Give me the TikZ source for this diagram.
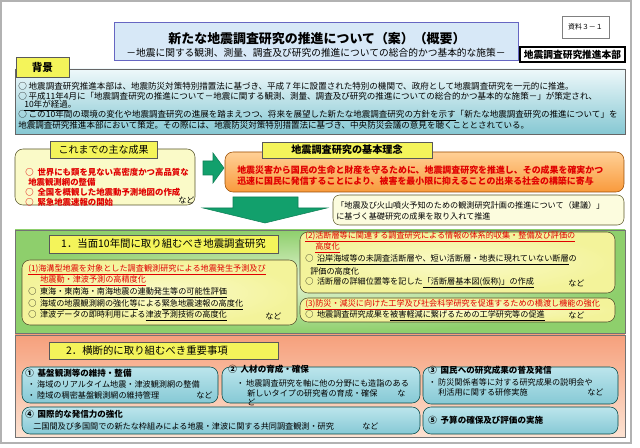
\documentclass[tikz,border=0pt]{standalone}
\usepackage{fontspec}
\usepackage{tikz}
\setmainfont{Noto Sans CJK JP}
\definecolor{tabyellow}{HTML}{F4F45A}
\definecolor{paleyellow}{HTML}{FAFAC8}
\definecolor{bgtop}{HTML}{EEF8FA}
\definecolor{bgbottom}{HTML}{86C8D3}
\definecolor{orangetop}{HTML}{FFD096}
\definecolor{orangebot}{HTML}{F99A3C}
\definecolor{arrowgreen}{HTML}{12A06C}
\definecolor{greenside}{HTML}{8ECF6C}
\definecolor{greenmid}{HTML}{E4F4D2}
\definecolor{subyellow}{HTML}{F3F39A}
\definecolor{salmontop}{HTML}{F6A07C}
\definecolor{salmonbot}{HTML}{FCE2D2}
\definecolor{cyantop}{HTML}{BCE5EC}
\definecolor{cyanbot}{HTML}{86C9D5}
\definecolor{titleblue}{HTML}{D7E8F7}
\definecolor{rednote}{HTML}{E00000}

\begin{document}
\begin{tikzpicture}[x=0.75pt,y=-0.75pt,
  body/.style={anchor=west,inner sep=0pt,font=\fontsize{6.1}{7.5}\selectfont},
  bgtext/.style={body,font=\fontsize{6.4}{7.5}\selectfont},
  redtext/.style={body,text=rednote},
  boxhead/.style={body,font=\fontsize{6.4}{7.5}\selectfont\bfseries},
  tabtext/.style={inner sep=0pt,font=\fontsize{7.5}{8}\selectfont},
  tabbox/.style={draw=black!65,fill=tabyellow},
  subbox/.style={draw=black!55!olive,rounded corners=6pt,inner color=paleyellow,outer color=subyellow},
  cyanbox/.style={draw=black!45!teal,rounded corners=6pt,top color=cyantop,bottom color=cyanbot},
  bigarrow/.style={fill=arrowgreen,draw=arrowgreen!80!black}]
\useasboundingbox (0,0) rectangle (640,448);
\draw[line width=1.5pt,draw=black!30,fill=white] (1,1) rectangle (631,443);

% title block
\draw[fill=titleblue,draw=black!40!blue!60] (114,22) rectangle (518,60);
\node[inner sep=0pt,font=\fontsize{9.7}{10}\selectfont\bfseries] (title) at (317,39) {新たな地震調査研究の推進について（案）（概要）};
\node[inner sep=0pt,font=\fontsize{7.3}{8}\selectfont] (subtitle) at (316,53) {－地震に関する観測、測量、調査及び研究の推進についての総合的かつ基本的な施策－};
\draw[draw=black!50,fill=white] (562,16) rectangle (609,38);
\node[inner sep=0pt,font=\fontsize{5.2}{6}\selectfont] (docno) at (585.5,27) {資料３－１};
\draw[line width=0.8pt,fill=white] (520,47) rectangle (625,62);
\node[inner sep=0pt,font=\fontsize{7.3}{8}\selectfont\bfseries] (hq) at (572.5,54.5) {地震調査研究推進本部};

% background
\draw[draw=black!60,top color=bgtop,bottom color=bgbottom] (15,69) rectangle (625,134);
\draw[tabbox] (16,57) rectangle (69,77);
\node[inner sep=0pt,font=\fontsize{8}{9}\selectfont\bfseries] (bgtab) at (42.5,67) {背景};
\node[bgtext] (bg1) at (18,86) {○ 地震調査研究推進本部は、地震防災対策特別措置法に基づき、平成７年に設置された特別の機関で、政府として地震調査研究を一元的に推進。};
\node[bgtext] (bg2) at (18,96) {○ 平成11年4月に「地震調査研究の推進について－地震に関する観測、測量、調査及び研究の推進についての総合的かつ基本的な施策－」が策定され、};
\node[bgtext] (bg3) at (24,106) {\underline{10年が経過}。};
\node[bgtext] (bg4) at (18,116) {○ \underline{この10年間の環境の変化や地震調査研究の進展を踏まえつつ、将来を展望した新たな地震調査研究の方針を示す}「新たな地震調査研究の推進について」を};
\node[bgtext] (bg5) at (18,125.5) {地震調査研究推進本部において策定。その際には、地震防災対策特別措置法に基づき、中央防災会議の意見を聴くこととされている。};

% results so far
\draw[draw=black!50!olive,rounded corners=6pt,fill=paleyellow] (15,149) rectangle (195,205);
\draw[tabbox] (50,141) rectangle (157,158);
\node[tabtext] (restab) at (103.5,149.5) {これまでの主な成果};
\node[redtext,font=\fontsize{6.3}{7.5}\selectfont\bfseries] (res1) at (25,172) {○\ \ 世界にも類を見ない高密度かつ高品質な};
\node[redtext,font=\fontsize{6.3}{7.5}\selectfont\bfseries] (res2) at (28,182) {地震観測網の整備};
\node[redtext,font=\fontsize{6.3}{7.5}\selectfont\bfseries] (res3) at (25,192) {○\ \ 全国を概観した地震動予測地図の作成};
\node[redtext,font=\fontsize{6.3}{7.5}\selectfont\bfseries] (res4) at (25,202) {○\ \ 緊急地震速報の開始};
\node[body] (resetc) at (178,200) {など};

% arrow to principle
\draw[bigarrow] (203,161) -- (213,161) -- (213,153) -- (224,168) -- (213,183) -- (213,175) -- (203,175) -- cycle;

% basic principle
\draw[draw=black!40!orange,rounded corners=6pt,top color=orangetop,bottom color=orangebot] (225,152) rectangle (624,192);
\draw[tabbox] (262,142) rectangle (432,158);
\node[tabtext,font=\fontsize{7.6}{8}\selectfont\bfseries] (ideatab) at (347,150) {地震調査研究の基本理念};
\node[redtext,font=\fontsize{6.7}{7.5}\selectfont\bfseries] (idea1) at (237,170) {地震災害から国民の生命と財産を守るために、地震調査研究を推進し、その成果を確実かつ};
\node[redtext,font=\fontsize{6.7}{7.5}\selectfont\bfseries] (idea2) at (237,181) {迅速に国民に発信することにより、被害を最小限に抑えることの出来る社会の構築に寄与};

% arrow down
\draw[bigarrow] (233,197) -- (298,197) -- (298,208) -- (327,208) -- (265,223) -- (203,208) -- (233,208) -- cycle;

% proposal note
\draw[draw=black!45!olive,rounded corners=5pt,fill=paleyellow!60] (333,195) rectangle (624,225);
\node[body] (note1) at (336,205) {「地震及び火山噴火予知のための観測研究計画の推進について（建議）」};
\node[body] (note2) at (336,216) {に基づく基礎研究の成果を取り入れて推進};

% section 1
\draw[draw=black!55,inner color=greenmid,outer color=greenside] (15,230) rectangle (625,333);
\draw[tabbox] (49,235) rectangle (278,253);
\node[tabtext,font=\fontsize{7.8}{8}\selectfont] (sec1) at (163.5,244) {1．当面10年間に取り組むべき地震調査研究};
\draw[subbox] (22,260) rectangle (297,325);
\draw[subbox] (300,232) rectangle (615,293);
\draw[subbox] (300,298) rectangle (615,322);
\node[redtext] (a1) at (28,270) {\underline{(1)海溝型地震を対象とした調査観測研究による地震発生予測及び}};
\node[redtext] (a2) at (40,281) {\underline{地震動・津波予測の高精度化}};
\node[body] (a3) at (28,293) {○\ \ \underline{東海・東南海・南海地震の連動発生等の可能性評価}};
\node[body] (a4) at (28,305) {○\ \ \underline{海域の地震観測網の強化等}による\underline{緊急地震速報の高度化}};
\node[body] (a5) at (28,316) {○\ \ 津波データの即時利用による\underline{津波予測技術の高度化}};
\node[body] (a5etc) at (265,316) {など};
\node[redtext] (b1) at (305,237) {\underline{(2)活断層等に関連する調査研究による情報の体系的収集・整備及び評価の}};
\node[redtext] (b2) at (315,248) {\underline{高度化}};
\node[body] (b3) at (305,260) {○\ \ \underline{沿岸海域等の未調査活断層や、短い活断層・地表に現れていない断層}の};
\node[body] (b4) at (310,271) {評価の高度化};
\node[body] (b5) at (305,283) {○\ \ 活断層の詳細位置等を記した\underline{「活断層基本図(仮称)」の作成}};
\node[body] (b5etc) at (568,283) {など};
\node[redtext] (c1) at (305,305) {\underline{(3)防災・減災に向けた工学及び社会科学研究を促進するための橋渡し機能の強化}};
\node[body] (c2) at (305,315.5) {○\ \ 地震調査研究成果を\underline{被害軽減に繋げるための工学研究等の促進}};
\node[body] (c2etc) at (568,315.5) {など};

% section 2
\draw[draw=black!55,top color=salmontop,bottom color=salmonbot] (15,335) rectangle (625,437);
\draw[tabbox] (49,342) rectangle (278,359);
\node[tabtext,font=\fontsize{7.8}{8}\selectfont] (sec2) at (147,350.5) {2．横断的に取り組むべき重要事項};
\foreach \xa/\ya/\xb/\yb in {22/367/218/403,222/367/420/403,423/367/618/404,22/407/420/434,423/407/618/434}
{
    \draw[cyanbox] (\xa,\ya) rectangle (\xb,\yb);
}
\node[boxhead] (d1) at (25,373) {①\ \ 基盤観測等の維持・整備};
\node[body] (d2) at (27,384) {・ 海域のリアルタイム地震・津波観測網の整備};
\node[body] (d3) at (27,395) {・ 陸域の稠密基盤観測網の維持管理};
\node[body] (d3etc) at (196,395) {など};
\node[boxhead] (e1) at (228,369.5) {②\ \ 人材の育成・確保};
\node[body] (e2) at (236,383) {・ 地震調査研究を軸に他の分野にも造詣のある};
\node[body] (e3) at (247,393) {新しいタイプの研究者の育成・確保};
\node[body] (e3etc) at (397,393) {な};
\node[body] (e4) at (247,402) {ど};
\node[boxhead] (f1) at (428,370) {③\ \ 国民への研究成果の普及発信};
\node[body] (f2) at (428,382) {・ 防災関係者等に対する研究成果の説明会や};
\node[body] (f3) at (438,392) {利活用に関する研修実施};
\node[body] (f3etc) at (587,392) {など};
\node[boxhead] (g1) at (25,414) {④\ \ 国際的な発信力の強化};
\node[body] (g2) at (33,426) {二国間及び多国間での新たな枠組みによる地震・津波に関する共同調査観測・研究};
\node[body] (g2etc) at (362,426) {など};
\node[boxhead] (h1) at (428,420.5) {⑤\ \ 予算の確保及び評価の実施};
\end{tikzpicture}
\end{document}
